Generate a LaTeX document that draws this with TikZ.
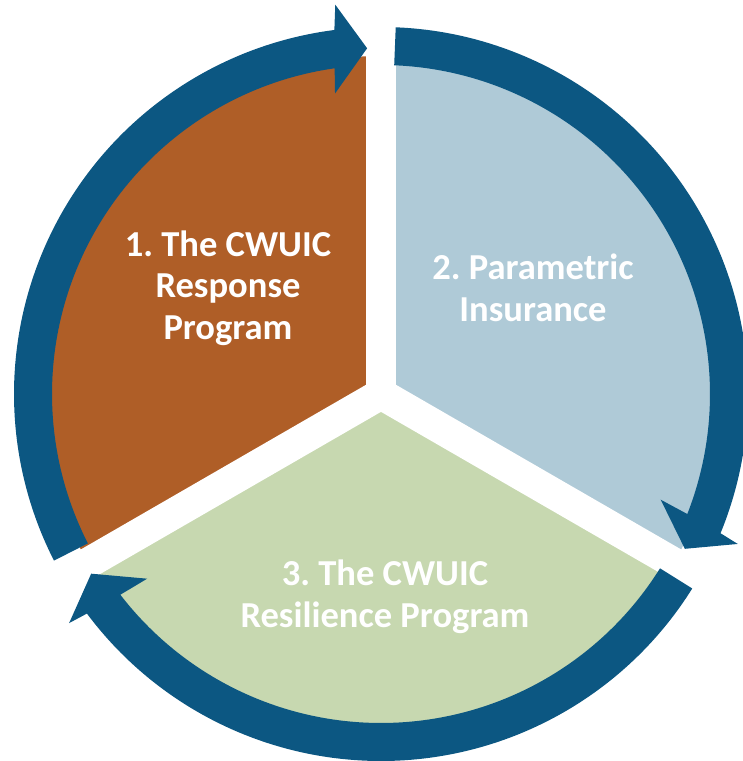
\documentclass[tikz,border=0pt]{standalone}
\usepackage{fontspec}
\setmainfont{Carlito}
\usepackage{xcolor}
\definecolor{ringblue}{HTML}{0C5782}
\definecolor{respbrown}{HTML}{AF5E27}
\definecolor{insblue}{HTML}{AFCAD7}
\definecolor{resgreen}{HTML}{C7D8B0}

\begin{document}
\frenchspacing
\begin{tikzpicture}[x = 0.025cm, y = 0.025cm,
        stagetext/.style = {text = white, align = center, font = \fontsize{26}{29.5}\selectfont\bfseries},
        gapline/.style = {draw = white, line width = 22pt, line cap = round}]
        \useasboundingbox (-381, -367) rectangle (361, 394);
        \coordinate (c) at (0, 0);

        % Sectors
        \fill [respbrown] (c) -- (90:338) arc[start angle = 90, end angle = 210, radius = 338] -- cycle;
        \fill [insblue] (c) -- (-30:338) arc[start angle = -30, end angle = 90, radius = 338] -- cycle;
        \fill [resgreen] (c) -- (210:338) arc[start angle = 210, end angle = 330, radius = 338] -- cycle;

        % Gaps between the sectors
        \draw [gapline] (c) -- (90:360);
        \draw [gapline] (c) -- (210:360);
        \draw [gapline] (c) -- (330:360);

        % Ring arrows
        \fill [ringblue] (207:367) arc[start angle = 207, end angle = 97.3, radius = 367] -- (96.7:392) -- (92.3:346) -- (98.7:304) -- (98.1:329) arc[start angle = 98.1, end angle = 207, radius = 329] -- cycle;
        \fill [ringblue] (87.7:367) arc[start angle = 87.7, end angle = -22.3, radius = 367] -- (-22.8:387) -- (-27:341) -- (-20.7:299) -- (-21.4:329) arc[start angle = -21.4, end angle = 87.7, radius = 329] -- cycle;
        \fill [ringblue] (-32:367) arc[start angle = -32, end angle = -143.25, radius = 367] -- (-143.7:387) -- (-148.2:341) -- (-141.7:298) -- (-142.4:329) arc[start angle = -142.4, end angle = -32, radius = 329] -- cycle;

        % Labels
        \node [stagetext] (resp) at (-153, 106) {1. The CWUIC\\Response\\Program};
        \node [stagetext] (ins) at (152, 106) {2. Parametric\\Insurance};
        \node [stagetext] (res) at (4, -203) {3. The CWUIC\\Resilience Program};
\end{tikzpicture}
\end{document}
